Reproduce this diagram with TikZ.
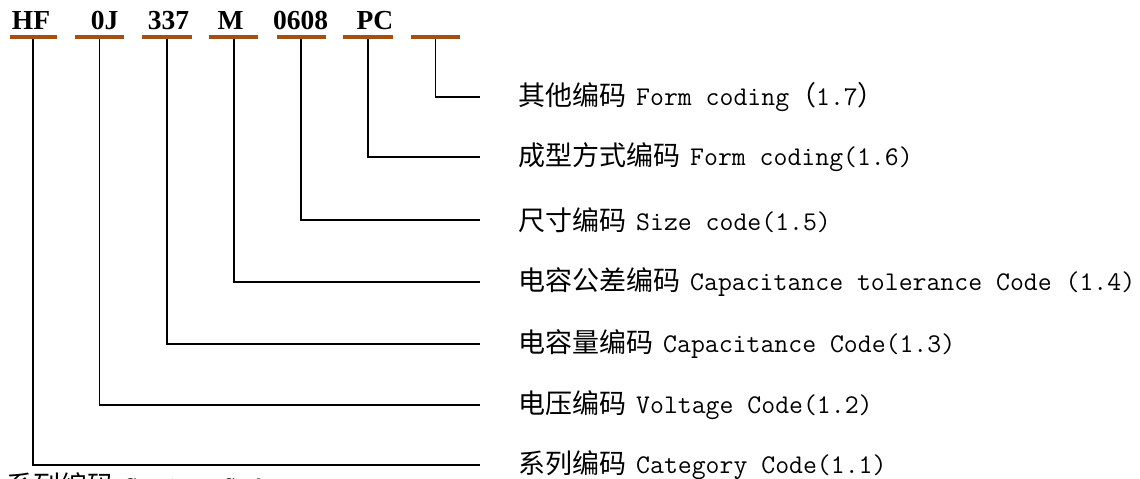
\documentclass[tikz,border=0pt]{standalone}
\usepackage{fontspec}
\setmainfont{Liberation Serif}
\newfontfamily\cjk{Noto Sans CJK SC}
\newfontfamily\lmtt{Latin Modern Mono}
\definecolor{barbrown}{RGB}{163,80,18}
\newcommand{\cj}[1]{{\cjk\fontsize{27}{30}\selectfont #1}}
\newcommand{\la}[1]{{\lmtt\fontsize{27}{30}\selectfont #1}}
\begin{document}
\begin{tikzpicture}[x=1pt,y=-1pt,
  hdr/.style={anchor=base,inner sep=0pt,font=\fontsize{27.5}{30}\selectfont\bfseries},
  bar/.style={draw=barbrown,line width=4pt},
  lab/.style={anchor=west,inner sep=0pt},
  conn/.style={draw=black,line width=1.3pt,shorten >=38pt}]
\clip (0,0) rectangle (1140,479);
\fill[white] (0,0) rectangle (1140,479);
% header codes
\node[hdr] (hHF) at (31,29) {HF};
\node[hdr] (h0J) at (104.5,29) {0J};
\node[hdr] (h337) at (168.5,29) {337};
\node[hdr] (hM) at (230.5,29) {M};
\node[hdr] (h0608) at (300.5,29) {0608};
\node[hdr] (hPC) at (375,29) {PC};
% bars
\foreach \n/\a/\b in {1/10/57,2/75/124,3/142/192,4/209/258,5/277/326,6/343/393,7/411/460}{
  \draw[bar] (\a,37) -- (\b,37);
}
\coordinate (b1) at (33,39);
\coordinate (b2) at (99.5,39);
\coordinate (b3) at (167,39);
\coordinate (b4) at (234,39);
\coordinate (b5) at (301,39);
\coordinate (b6) at (368,39);
\coordinate (b7) at (435.5,39);
% labels
\node[lab] (l7) at (518,97) {\cj{其他编码}\hspace{10pt}\la{Form coding}\cj{（}\la{1.7}\cj{）}};
\node[lab] (l6) at (518,157) {\cj{成型方式编码}\hspace{10pt}\la{Form coding(1.6)}};
\node[lab] (l5) at (518,220) {\cj{尺寸编码}\hspace{10pt}\la{Size code(1.5)}};
\node[lab] (l4) at (518,282) {\cj{电容公差编码}\hspace{10pt}\la{Capacitance tolerance Code (1.4)}};
\node[lab] (l3) at (518,344) {\cj{电容量编码}\hspace{10pt}\la{Capacitance Code(1.3)}};
\node[lab] (l2) at (518,405) {\cj{电压编码}\hspace{10pt}\la{Voltage Code(1.2)}};
\node[lab] (l1) at (518,465) {\cj{系列编码}\hspace{10pt}\la{Category Code(1.1)}};
\node[lab] (ls) at (6,485) {\cj{系列编码}\hspace{10pt}\la{Series Code}};
% connectors
\foreach \i in {1,...,7}{
  \draw[conn] (b\i) |- (l\i.west);
}
\end{tikzpicture}
\end{document}
